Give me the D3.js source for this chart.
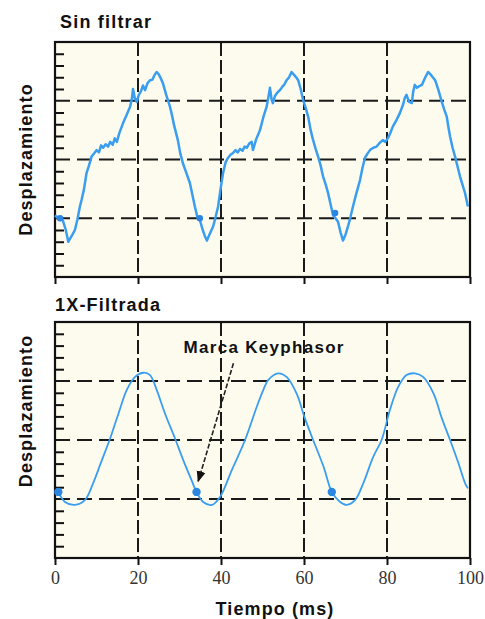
<!DOCTYPE html>
<html><head><meta charset="utf-8">
<script src="https://cdn.jsdelivr.net/npm/d3@7"></script>
<style>body{margin:0;background:#fff}svg{display:block}</style>
</head><body>
<svg id="c" width="485" height="619"></svg>
<script>
// ---- data ----
const titles = ["Sin filtrar", "1X-Filtrada"];
const yLabel = "Desplazamiento";
const xLabel = "Tiempo (ms)";
const xTicks = [0, 20, 40, 60, 80, 100];
const yGrid = [1, 2, 3];
const annotation = "Marca Keyphasor";
// unfiltered signal: [time ms, displacement (grid units)]
const rawT = [0,0.8,1.5,2.0,2.6,3.2,3.7,4.2,4.8,5.4,6.0,6.4,7.0,7.6,8.2,8.8,9.4,10.0,10.6,11.1,11.6,12.2,12.8,13.3,13.9,14.4,14.9,15.5,16.4,17.2,18.1,18.5,18.8,19.2,19.7,20.2,20.7,21.2,21.7,22.3,22.9,23.5,24.0,24.5,25.0,25.5,26.0,26.8,27.7,28.2,28.7,29.6,30.2,30.8,31.6,32.5,33.1,33.7,34.3,34.9,35.6,36.2,36.6,37.2,38.1,38.7,39.3,39.9,40.5,41.1,41.7,42.3,42.9,43.5,44.0,44.6,45.2,45.7,46.2,46.8,47.4,47.7,48.5,49.4,50.2,51.0,51.4,51.8,52.2,52.5,53.0,53.6,54.2,54.8,55.3,55.8,56.4,57.0,57.6,58.1,58.6,59.2,59.8,60.4,61.0,61.6,62.2,62.8,63.4,64.0,64.6,65.2,65.8,66.4,67.0,67.6,68.2,68.8,69.4,70.0,70.6,71.2,71.8,72.6,73.5,74.1,74.7,75.3,75.9,76.7,77.5,78.2,79.0,79.6,80.2,80.8,81.4,82.2,83.1,83.9,84.3,84.7,85.3,86.0,86.3,86.7,87.2,87.8,88.4,89.1,89.9,90.6,91.6,92.4,93.2,93.8,94.4,94.8,95.2,95.8,96.4,97.0,97.6,98.2,98.8,99.5];
const rawV = [1.05,1.0,1.02,0.94,0.80,0.60,0.66,0.72,0.80,0.98,1.20,1.31,1.50,1.77,1.90,2.05,2.10,2.16,2.12,2.24,2.20,2.26,2.22,2.30,2.25,2.36,2.30,2.45,2.62,2.75,2.90,3.02,3.20,3.05,2.98,3.10,3.16,3.26,3.18,3.30,3.35,3.36,3.44,3.49,3.45,3.38,3.30,3.10,2.90,2.75,2.58,2.33,2.10,1.94,1.78,1.60,1.40,1.20,1.02,0.97,0.80,0.68,0.62,0.72,0.86,1.02,1.20,1.50,1.77,1.95,2.03,2.08,2.11,2.16,2.12,2.18,2.15,2.22,2.20,2.27,2.30,2.16,2.35,2.50,2.72,2.90,3.05,3.22,3.02,2.96,3.08,3.14,3.18,3.24,3.28,3.35,3.40,3.49,3.44,3.40,3.35,3.20,3.01,2.88,2.73,2.50,2.33,2.18,2.05,1.90,1.71,1.58,1.43,1.24,1.05,1.00,0.94,0.76,0.62,0.72,0.86,1.02,1.20,1.42,1.65,1.86,2.03,2.10,2.16,2.20,2.22,2.28,2.33,2.30,2.36,2.45,2.56,2.66,2.79,2.94,3.05,3.10,2.98,2.96,3.15,3.27,3.22,3.25,3.27,3.38,3.49,3.44,3.35,3.18,2.98,2.85,2.73,2.55,2.39,2.20,2.05,1.88,1.71,1.57,1.43,1.20];
// 1X filtered signal
const filtT = [0.8,2.4,4.8,7.2,9.2,11.3,13.3,15.3,17.3,19.3,21.3,22.9,24.5,26.5,28.9,30.9,32.9,34.1,35.7,37.8,39.8,42.6,45.8,48.6,50.2,51.4,53.8,55.8,58.2,60.2,62.2,64.7,66.7,68.7,70.3,72.3,74.3,76.7,78.7,80.7,82.7,84.7,86.7,88.7,91.2,93.2,95.2,97.2,98.8,99.5];
const filtV = [1.12,0.95,0.90,0.98,1.27,1.66,2.03,2.45,2.85,3.07,3.14,3.10,2.85,2.45,2.03,1.66,1.32,1.12,0.95,0.90,1.04,1.49,2.00,2.56,2.85,3.02,3.13,3.07,2.79,2.37,2.00,1.55,1.12,0.95,0.90,0.98,1.27,1.72,2.00,2.51,2.90,3.10,3.13,3.07,2.79,2.37,2.00,1.61,1.27,1.18];
// keyphasor marks
const rawMarkT = [1.2, 34.9, 67.5];
const rawMarkV = [1.0, 1.0, 1.09];
const filtMarkT = [0.8, 34.1, 66.7];
const filtMarkV = [1.12, 1.12, 1.12];
// arrow [start, end] in data units
const arrowT = [43.0, 34.5];
const arrowV = [3.30, 1.30];
const annoPos = [50.4, 3.58];

// ---- drawing ----
const svg = d3.select("#c");
const BLUE = "#3a9ef0";
const x = d3.scaleLinear().domain([0, 100]).range([55, 470]);
const panels = [
  {y: d3.scaleLinear().domain([0, 4]).range([277, 42]), t: rawT, v: rawV, mt: rawMarkT, mv: rawMarkV, r: 3.2, title: titles[0], tY: 28, curve: d3.curveLinear, w: 2.5},
  {y: d3.scaleLinear().domain([0, 4]).range([558, 322]), t: filtT, v: filtV, mt: filtMarkT, mv: filtMarkV, r: 4.2, title: titles[1], tY: 311, curve: d3.curveCatmullRom, w: 1.8}
];
const defs = svg.append("defs");
defs.append("marker").attr("id", "ah").attr("viewBox", "0 0 10 10").attr("refX", 9).attr("refY", 5)
  .attr("markerWidth", 7).attr("markerHeight", 7).attr("orient", "auto")
  .append("path").attr("d", "M0,1 L10,5 L0,9 Z").attr("fill", "#111");

panels.forEach((p, i) => {
  const g = svg.append("g");
  const [y0, y1] = p.y.range();
  g.append("rect").attr("x", x(0)).attr("y", y1).attr("width", x(100) - x(0)).attr("height", y0 - y1).attr("fill", "#fdfbed");
  // minor left ticks
  const minor = d3.range(1, 20).map(k => k * 0.2).filter(v => Math.abs(v - Math.round(v)) > 0.01);
  g.append("g").attr("transform", `translate(${x(0)},0)`)
    .call(d3.axisLeft(p.y).tickValues(minor).tickSize(-9).tickFormat(""))
    .call(a => { a.select(".domain").remove(); a.selectAll("line").attr("stroke", "#111").attr("stroke-width", 2); });
  // horizontal dashed grid
  g.selectAll(".hg").data(yGrid).enter().append("line")
    .attr("x1", x(0)).attr("x2", x(100)).attr("y1", d => p.y(d)).attr("y2", d => p.y(d))
    .attr("stroke", "#1a1a1a").attr("stroke-width", 2).attr("stroke-dasharray", "15,7");
  // vertical dashed grid
  g.selectAll(".vg").data(xTicks.slice(1, -1)).enter().append("line")
    .attr("x1", d => x(d)).attr("x2", d => x(d)).attr("y1", y1).attr("y2", y0)
    .attr("stroke", "#1a1a1a").attr("stroke-width", 2).attr("stroke-dasharray", "14,4");
  // bottom axis ticks (labels only on lower panel)
  const ax = d3.axisBottom(x).tickValues(xTicks).tickSize(7).tickPadding(6);
  if (i === 0) ax.tickFormat("");
  g.append("g").attr("transform", `translate(0,${y0})`).call(ax)
    .call(a => {
      a.select(".domain").remove();
      a.selectAll("line").attr("stroke", "#111").attr("stroke-width", 2);
      a.selectAll("text").attr("font-family", "Liberation Serif, serif").attr("font-size", 18).attr("fill", "#333");
    });
  // frame
  g.append("rect").attr("x", x(0)).attr("y", y1).attr("width", x(100) - x(0)).attr("height", y0 - y1)
    .attr("fill", "none").attr("stroke", "#111").attr("stroke-width", 2.2);
  // curve
  const pts = p.t.map((t, k) => [t, p.v[k]]);
  g.append("path").datum(pts)
    .attr("d", d3.line().x(d => x(d[0])).y(d => p.y(d[1])).curve(p.curve))
    .attr("fill", "none").attr("stroke", BLUE).attr("stroke-width", p.w).attr("stroke-linejoin", "round");
  // keyphasor marks
  g.selectAll(".mk").data(p.mt.map((t, k) => [t, p.mv[k]])).enter().append("circle")
    .attr("cx", d => x(d[0])).attr("cy", d => p.y(d[1])).attr("r", p.r).attr("fill", "#2a86e0");
  // title
  g.append("text").attr("x", x(0) + (i === 0 ? 5 : 0)).attr("y", p.tY).text(p.title)
    .attr("font-family", "Liberation Sans, Arial, sans-serif").attr("font-weight", "bold")
    .attr("font-size", 18).attr("letter-spacing", 1.2).attr("fill", "#111");
  // y label
  const cy = (y0 + y1) / 2 + (i === 0 ? 0 : -29);
  g.append("text").attr("transform", `translate(32,${cy}) rotate(-90)`).attr("text-anchor", "middle")
    .text(yLabel).attr("font-family", "Liberation Sans, Arial, sans-serif").attr("font-weight", "bold")
    .attr("font-size", 18).attr("letter-spacing", 1.1).attr("fill", "#111");
});

// annotation + arrow (lower panel)
const yb = panels[1].y;
svg.append("line").attr("x1", x(arrowT[0])).attr("y1", yb(arrowV[0])).attr("x2", x(arrowT[1])).attr("y2", yb(arrowV[1]))
  .attr("stroke", "#222").attr("stroke-width", 1.6).attr("stroke-dasharray", "5,2").attr("marker-end", "url(#ah)");
svg.append("text").attr("x", x(annoPos[0])).attr("y", yb(annoPos[1]) + 6).attr("text-anchor", "middle").text(annotation)
  .attr("font-family", "Liberation Sans, Arial, sans-serif").attr("font-weight", "bold")
  .attr("font-size", 17).attr("letter-spacing", 1.3).attr("fill", "#111");

// x label
svg.append("text").attr("x", 275).attr("y", 615).attr("text-anchor", "middle").text(xLabel)
  .attr("font-family", "Liberation Sans, Arial, sans-serif").attr("font-weight", "bold")
  .attr("font-size", 18).attr("letter-spacing", 1.1).attr("fill", "#111");
</script>
</body></html>
